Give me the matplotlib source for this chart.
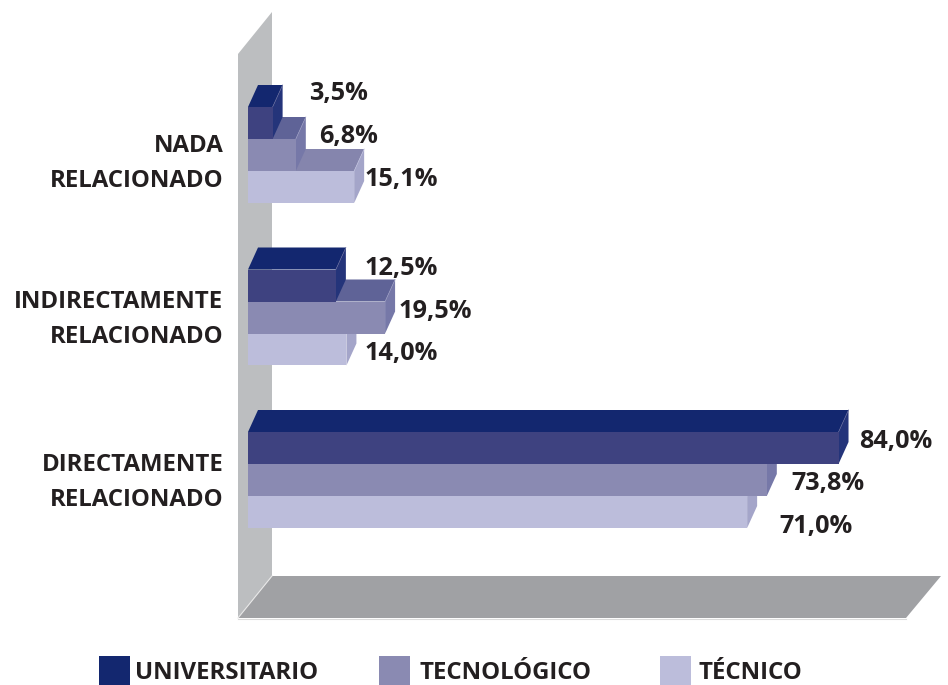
import matplotlib
matplotlib.use('Agg')
import matplotlib.pyplot as plt
from matplotlib.patches import Polygon, Rectangle

plt.rcParams['font.family'] = ['Open Sans', 'DejaVu Sans']

categories = ['NADA\nRELACIONADO', 'INDIRECTAMENTE\nRELACIONADO', 'DIRECTAMENTE\nRELACIONADO']
series = ['UNIVERSITARIO', 'TECNOLÓGICO', 'TÉCNICO']
universitario = [3.5, 12.5, 84.0]
tecnologico = [6.8, 19.5, 73.8]
tecnico = [15.1, 14.0, 71.0]
value_labels = [['3,5%', '6,8%', '15,1%'], ['12,5%', '19,5%', '14,0%'], ['84,0%', '73,8%', '71,0%']]

# front, top, side colours per series
front_cols = ['#3e4280', '#8a8ab2', '#bcbddb']
top_cols = ['#13276f', '#5f6397', '#8585ad']
side_cols = ['#24347a', '#7678a8', '#a4a5c9']
edge_cols = ['#5c6296', '#9496bd', '#bcbddb']
legend_cols = ['#13276f', '#8a8ab2', '#bcbddb']

W, H = 948, 685
fig = plt.figure(figsize=(W / 100, H / 100), dpi=100)

# background axes in pixels, for the walls, the legend and the texts
bg = fig.add_axes([0, 0, 1, 1])
bg.set_xlim(0, W)
bg.set_ylim(H, 0)
bg.axis('off')
bg.add_patch(Polygon([(238, 54), (272, 12), (272, 576), (238, 618)], fc='#bcbec0', ec='none'))
bg.add_patch(Polygon([(238, 618), (272, 576), (941, 576), (906, 618)], fc='#a0a1a4', ec='none'))
bg.plot([238, 272], [618, 576], color='#e8e8e8', lw=0.8)
bg.plot([238, 906], [619, 619], color='#dcdcdc', lw=0.8)

# bars axes: x in percent, y in groups
px_per_pct = 7.03
top_px, bot_px = 60, 560
ax = fig.add_axes([248 / W, 1 - bot_px / H, 100 * px_per_pct / W, (bot_px - top_px) / H])
group_px = 162.5
ax.set_xlim(0, 100)
ax.set_ylim((bot_px - 155) / group_px, (top_px - 155) / group_px)
ax.axis('off')
ax.patch.set_alpha(0)

h = 32 / group_px
dx = 10 / px_per_pct
dy = 22 / group_px
all_series = [universitario, tecnologico, tecnico]

# lowest bar first so the upper ones cover its top face
z = 2
for g in range(len(categories)):
    for s in [2, 1, 0]:
        v = all_series[s][g]
        yc = g + (s - 1) * h
        up = yc - h / 2
        lo = yc + h / 2
        ax.add_patch(Polygon([(0, up), (dx, up - dy), (v + dx, up - dy), (v, up)], fc=top_cols[s], ec='none', zorder=z))
        ax.add_patch(Polygon([(v, up), (v + dx, up - dy), (v + dx, lo - dy), (v, lo)], fc=side_cols[s], ec='none', zorder=z))
        ax.plot([v, v + dx], [up, up - dy], color=edge_cols[s], lw=0.5, zorder=z)
        ax.barh(yc, v, height=h, color=front_cols[s], zorder=z + 1)
        z += 2

text_col = '#231f20'
cat_fs = 17.3
val_fs = 18.2

cat_y = [163.5, 319.5, 482.5]
for c, y in zip(categories, cat_y):
    bg.text(223.5, y, c, ha='right', va='center', fontsize=cat_fs, fontweight='bold', color=text_col, linespacing=1.6)

label_pos = [[(309, 93), (319, 136), (365, 179)],
             [(365, 268), (399, 311), (365, 353)],
             [(859, 441), (791, 483), (779, 526)]]
for g in range(len(categories)):
    for s in range(3):
        x, y = label_pos[g][s]
        bg.text(x, y, value_labels[g][s], ha='left', va='center', fontsize=val_fs, fontweight='bold', color=text_col)

legend_box = [99, 379, 660]
legend_txt = [135, 420, 699]
for s in range(3):
    bg.add_patch(Rectangle((legend_box[s], 656), 31, 29, fc=legend_cols[s], ec='none'))
    bg.text(legend_txt[s], 673, series[s], ha='left', va='center', fontsize=cat_fs, fontweight='bold', color=text_col)

fig.savefig('out.png', dpi=100)
